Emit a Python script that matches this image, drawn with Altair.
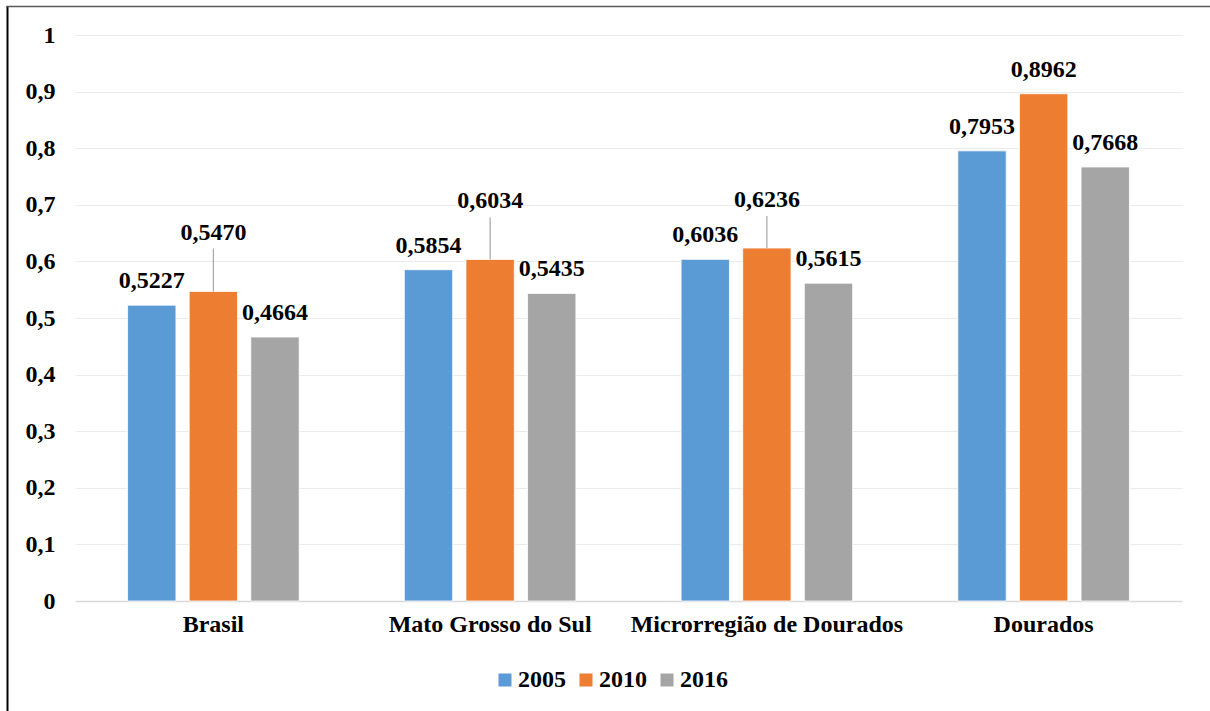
import json
import altair as alt
import pandas as pd

# ---- data ----
regions = ["Brasil", "Mato Grosso do Sul", "Microrregião de Dourados", "Dourados"]
years = ["2005", "2010", "2016"]
v2005 = [0.5227, 0.5854, 0.6036, 0.7953]
v2010 = [0.5470, 0.6034, 0.6236, 0.8962]
v2016 = [0.4664, 0.5435, 0.5615, 0.7668]
y_ticks = [0, 0.1, 0.2, 0.3, 0.4, 0.5, 0.6, 0.7, 0.8, 0.9, 1]

colors = ["#5B9BD5", "#ED7D31", "#A5A5A5"]
FONT = "'Times New Roman', 'Liberation Serif', 'DejaVu Serif', serif"
FS = 24

rows = []
for i, r in enumerate(regions):
    for yr, vals in zip(years, [v2005, v2010, v2016]):
        rows.append({"region": r, "year": yr, "value": vals[i]})
df = pd.DataFrame(rows)

# label layout: labels moved up with a leader line (text dy, line length in px)
raised = {
    ("Brasil", "2010"): (-51, -43),
    ("Mato Grosso do Sul", "2010"): (-51, -42),
    ("Microrregião de Dourados", "2010"): (-41, -32),
}
raised_keys = json.dumps([f"{r}|{y}" for (r, y) in raised])

base = alt.Chart(df).transform_calculate(
    label="replace(format(datum.value, '.4f'), '.', ',')",
    key="datum.region + '|' + datum.year",
)

x = alt.X(
    "region:N",
    sort=regions,
    scale=alt.Scale(paddingInner=0.38, paddingOuter=0.19),
    axis=alt.Axis(
        title=None, labelAngle=0, labelFont=FONT, labelFontSize=FS,
        labelFontWeight="bold", labelColor="black", labelPadding=11,
        labelLimit=0,
        domainColor="#D9D9D9", domainWidth=1.5, ticks=False, grid=False,
    ),
)
xo = alt.XOffset("year:N", sort=years, scale=alt.Scale(paddingInner=0.215, paddingOuter=0))
y = alt.Y(
    "value:Q",
    scale=alt.Scale(domain=[0, 1], nice=False),
    axis=alt.Axis(
        title=None, values=y_ticks,
        labelExpr="replace(format(datum.value, '.1~f'), '.', ',')",
        labelFont=FONT, labelFontSize=FS, labelFontWeight="bold",
        labelColor="black", labelPadding=20, domain=False, ticks=False,
        gridColor="#EBEBEB", gridWidth=1,
    ),
)

bars = base.mark_bar(stroke="white", strokeWidth=0.8).encode(
    x=x, xOffset=xo, y=y,
    color=alt.Color(
        "year:N", sort=years,
        scale=alt.Scale(domain=years, range=colors),
        legend=alt.Legend(
            title=None, orient="none", legendX=418, legendY=633,
            direction="horizontal", symbolType="square", symbolSize=169,
            symbolStrokeWidth=0, labelFont=FONT, labelFontSize=FS,
            labelFontWeight="bold", labelColor="black", labelOffset=1,
            columnPadding=8, padding=0, labelLimit=0,
        ),
    ),
)

text_style = dict(font=FONT, fontSize=FS, fontWeight="bold", baseline="alphabetic", color="black")

normal_text = base.transform_filter(
    f"indexof({raised_keys}, datum.key) < 0"
).mark_text(dy=-17, **text_style).encode(x=x, xOffset=xo, y=y, text="label:N")

layers = [bars, normal_text]
for (r, yr), (tdy, lline) in raised.items():
    sel = base.transform_filter(f"datum.region == '{r}' && datum.year == '{yr}'")
    layers.append(
        sel.mark_rule(color="#A6A6A6", strokeWidth=1.2, y2Offset=lline).encode(
            x=x, xOffset=xo, y=y, y2="value:Q"
        )
    )
    layers.append(
        sel.mark_text(dy=tdy, **text_style).encode(x=x, xOffset=xo, y=y, text="label:N")
    )

# frame of the picture (left and top edges)
frame_df = pd.DataFrame({"k": [0]})
left_edge = alt.Chart(frame_df).mark_rule(color="#000000", strokeWidth=2).encode(
    x=alt.value(-67.5), y=alt.value(-29), y2=alt.value(680)
)
top_edge = alt.Chart(frame_df).mark_rule(color="#595959", strokeWidth=1.5).encode(
    x=alt.value(-68.5), x2=alt.value(1140), y=alt.value(-28.5)
)
layers += [left_edge, top_edge]

chart = alt.layer(*layers).properties(
    width=1107, height=566,
    autosize=alt.AutoSizeParams(type="none"),
    padding={"left": 75, "top": 35, "right": 28, "bottom": 110},
    background="white",
).configure_view(stroke=None)

chart.save("out.html", embed_options={"renderer": "svg", "actions": False})
